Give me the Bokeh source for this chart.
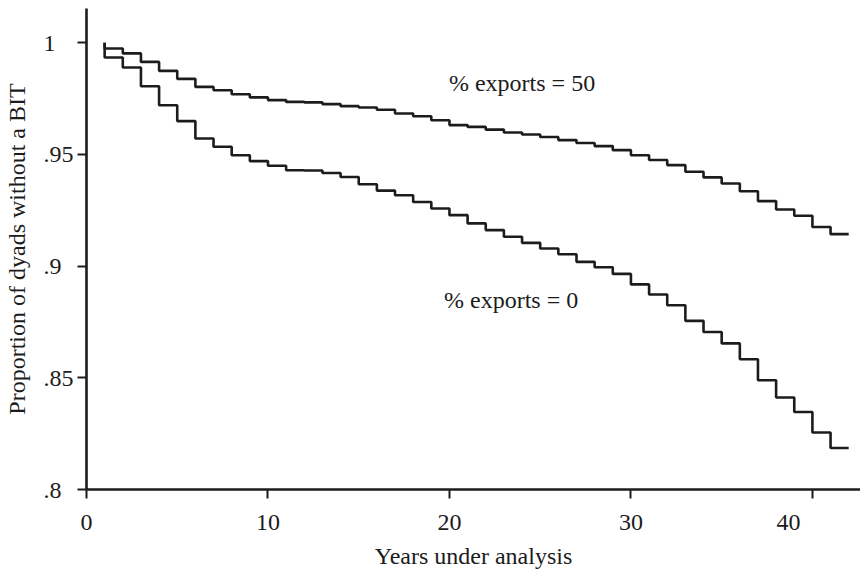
from bokeh.plotting import figure
from bokeh.models import Range1d, FixedTicker, Label
from bokeh.embed import file_html
from bokeh.resources import INLINE

# ---- data ----
years = list(range(1, 43))  # 1..42
start_value = 1.0
surv_exports_50 = [0.9974, 0.9952, 0.9914, 0.9874, 0.9838, 0.9802, 0.9787, 0.9769, 0.9755, 0.9743,
                   0.9735, 0.9733, 0.9725, 0.9716, 0.9710, 0.9700, 0.9683, 0.9671, 0.9653, 0.9631,
                   0.9623, 0.9611, 0.9598, 0.9589, 0.9578, 0.9564, 0.9551, 0.9537, 0.9519, 0.9496,
                   0.9475, 0.9452, 0.9422, 0.9397, 0.9370, 0.9335, 0.9291, 0.9253, 0.9225, 0.9175,
                   0.9143]
surv_exports_0 = [0.9934, 0.9889, 0.9805, 0.9720, 0.9649, 0.9571, 0.9534, 0.9496, 0.9470, 0.9449,
                  0.9429, 0.9428, 0.9417, 0.9399, 0.9366, 0.9338, 0.9317, 0.9287, 0.9258, 0.9228,
                  0.9191, 0.9161, 0.9131, 0.9104, 0.9079, 0.9053, 0.9019, 0.8995, 0.8965, 0.8918,
                  0.8873, 0.8825, 0.8755, 0.8705, 0.8654, 0.8583, 0.8489, 0.8412, 0.8347, 0.8255,
                  0.8186]
x_ticks = [0, 10, 20, 30, 40]
x_tick_labels = ["0", "10", "20", "30", "40" + "\u00a0" * 8]
y_ticks = [0.8, 0.85, 0.9, 0.95, 1.0]
y_tick_labels = [".8\u00a0\u00a0", ".85", ".9\u00a0\u00a0", ".95", "1\u00a0\u00a0\u00a0"]
label_50 = "% exports = 50"
label_0 = "% exports = 0"

FONT = "Liberation Serif"
INK = "#1c1c1c"

p = figure(width=860, height=573, output_backend="svg", toolbar_location=None,
           x_range=Range1d(0, 42.65), y_range=Range1d(0.8, 1.0153),
           min_border_left=85, min_border_right=0, min_border_top=8, min_border_bottom=84)
p.outline_line_color = None
p.xgrid.visible = False
p.ygrid.visible = False
p.background_fill_color = "white"
p.border_fill_color = "white"

def step_xy(vals):
    xs = [years[0]] + years
    ys = [start_value] + vals + [vals[-1]]
    return xs, ys

for vals in (surv_exports_50, surv_exports_0):
    xs, ys = step_xy(vals)
    p.step(xs, ys, mode="after", line_color=INK, line_width=2.6)

for ax in (p.xaxis[0], p.yaxis[0]):
    ax.axis_line_color = INK
    ax.axis_line_width = 2.6
    ax.major_tick_line_color = INK
    ax.major_tick_line_width = 2
    ax.major_tick_out = 9
    ax.major_tick_in = 0
    ax.minor_tick_line_color = None
    ax.major_label_text_font = FONT
    ax.major_label_text_font_size = "24px"
    ax.major_label_text_color = INK
    ax.axis_label_text_font = FONT
    ax.axis_label_text_font_size = "24px"
    ax.axis_label_text_font_style = "normal"
    ax.axis_label_text_color = INK

p.xaxis.ticker = FixedTicker(ticks=x_ticks)
p.xaxis.major_label_overrides = {t: l for t, l in zip(x_ticks, x_tick_labels)}
p.yaxis.ticker = FixedTicker(ticks=y_ticks)
p.yaxis.major_label_overrides = {t: l for t, l in zip(y_ticks, y_tick_labels)}
p.xaxis.major_label_standoff = 10
p.yaxis.major_label_standoff = 4
p.xaxis.axis_label = "Years under analysis"
p.yaxis.axis_label = "Proportion of dyads without a BIT"
p.xaxis.axis_label_standoff = 5
p.yaxis.axis_label_standoff = 11

p.add_layout(Label(x=24.0, y=0.9819, text=label_50, text_align="center",
                   text_baseline="alphabetic", text_font=FONT, text_font_size="24px",
                   text_color=INK))
p.add_layout(Label(x=23.4, y=0.8848, text=label_0, text_align="center",
                   text_baseline="alphabetic", text_font=FONT, text_font_size="24px",
                   text_color=INK))

open("out.html", "w").write(file_html(p, INLINE))
